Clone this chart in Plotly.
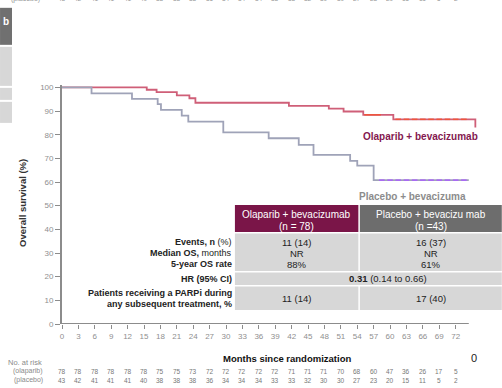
import numpy as np
import plotly.graph_objects as go

# ---- data ----------------------------------------------------------------
risk_months = list(range(0, 73, 3))
risk_olaparib = [78, 78, 78, 78, 78, 78, 75, 75, 73, 72, 72, 72, 72,
                 72, 71, 71, 71, 70, 68, 60, 47, 36, 26, 17, 5]
risk_placebo = [43, 42, 41, 41, 41, 40, 38, 38, 38, 36, 34, 34, 34,
                33, 33, 32, 30, 30, 27, 23, 20, 15, 11, 5, 2]

# Kaplan-Meier step points (months, % surviving)
ola_time = [0, 15.5, 17.3, 21.0, 23.3, 24.4, 41.5, 48.8, 51.5, 55.1, 60.6, 75.6, 75.6]
ola_surv = [100, 99.0, 98.0, 96.6, 95.4, 93.5, 92.2, 91.0, 89.8, 88.4, 86.5, 86.5, 83.0]
pla_time = [0, 5.4, 12.8, 17.5, 18.1, 21.9, 23.1, 29.5, 37.8, 43.3, 46.0, 52.7, 54.0, 57.0, 74.4]
pla_surv = [100, 97.5, 95.1, 92.9, 90.5, 88.1, 85.5, 81.0, 78.5, 75.7, 71.5, 68.9, 66.9, 60.8, 60.8]

# censoring times
ola_censor = [55.8, 56.8, 57.8, 61.5, 63.0, 64.5, 66.0, 67.5, 69.0, 70.5, 72.0, 73.5]
pla_censor = [58.5, 60.0, 61.5, 63.0, 64.5, 66.0, 67.5, 69.0, 70.5, 72.0, 73.5]

table_header = ["Olaparib + bevacizumab", "Placebo + bevacizu mab"]
table_n = ["(n = 78)", "(n =43)"]
events = ["11 (14)", "16 (37)"]
median_os = ["NR", "NR"]
os5 = ["88%", "61%"]
hr_text = "<b>0.31</b> (0.14 to 0.66)"
parpi = ["11 (14)", "17 (40)"]

# ---- geometry ------------------------------------------------------------
FW, FH = 502, 388
L = 62
PX_PER_MONTH = 5.47
X_MAX = 77
R = FW - (L + X_MAX * PX_PER_MONTH)
Y0_PX, Y100_PX = 324.0, 87.5
Y_MAX = 101
PX_PER_PCT = (Y0_PX - Y100_PX) / 100
T = Y0_PX - Y_MAX * PX_PER_PCT
B = FH - Y0_PX
PW = FW - L - R
PH = FH - T - B


def px(x):
    return (x - L) / PW


def py(y):
    return (FH - B - y) / PH


def step_value(times, surv, t):
    i = np.searchsorted(np.array(times), t, side="right") - 1
    return surv[i]


FONT = "Liberation Sans, Arial, sans-serif"
RED = "#cf5f78"
GREY_LINE = "#9fa3b8"
MAROON = "#7a1548"
DARK_GREY = "#6d6d6d"
CELL = "#d7d7d7"

fig = go.Figure()

fig.add_trace(go.Scatter(x=ola_time, y=ola_surv, mode="lines",
                         line=dict(color=RED, width=1.8, shape="hv"),
                         hoverinfo="skip"))
fig.add_trace(go.Scatter(x=ola_censor,
                         y=[step_value(ola_time, ola_surv, t) for t in ola_censor],
                         mode="markers",
                         marker=dict(symbol="line-ew-open", size=4,
                                     line=dict(color="#9a3a57", width=1.5)),
                         hoverinfo="skip"))
fig.add_trace(go.Scatter(x=pla_time, y=pla_surv, mode="lines",
                         line=dict(color=GREY_LINE, width=1.8, shape="hv"),
                         hoverinfo="skip"))
fig.add_trace(go.Scatter(x=pla_censor,
                         y=[step_value(pla_time, pla_surv, t) for t in pla_censor],
                         mode="markers",
                         marker=dict(symbol="line-ew-open", size=4,
                                     line=dict(color="#7d8196", width=1.5)),
                         hoverinfo="skip"))

shapes = []
# x axis line (stops short of the plotting area edge)
shapes.append(dict(type="line", xref="x", yref="y", x0=0, x1=74.4, y0=0, y1=0,
                   line=dict(color="#8c8c8c", width=1.8), layer="above"))


def rect(x0, y0, x1, y1, color):
    shapes.append(dict(type="rect", xref="paper", yref="paper",
                       x0=px(x0), x1=px(x1), y0=py(y1), y1=py(y0),
                       fillcolor=color, line=dict(width=0), layer="above"))


# panel fragments on the left edge
rect(0, 8, 12, 45, "#707070")
rect(0, 47, 12, 86, CELL)
rect(0, 88, 12, 100, CELL)
rect(0, 102, 12, 123, CELL)

# summary table
COLS = [(235, 358.5), (360, 502)]
rect(COLS[0][0], 205, COLS[0][1], 232, MAROON)
rect(COLS[1][0], 205, COLS[1][1], 232, DARK_GREY)
for c in COLS:
    rect(c[0], 233.5, c[1], 271, CELL)
    rect(c[0], 286.5, c[1], 310, CELL)
rect(235, 272.5, 502, 285, CELL)

ann = []


def text(x, y, s, size=9.5, color="#222", xanchor="center", bold=False,
         xref="paper", **kw):
    ann.append(dict(xref=xref, yref="paper", x=px(x) if xref == "paper" else x,
                    y=py(y), text=f"<b>{s}</b>" if bold else s, showarrow=False,
                    xanchor=xanchor, yanchor="middle",
                    font=dict(family=FONT, size=size, color=color), **kw))


text(6, 22, "b", size=10, color="white", bold=True)

# curve labels
text(421, 137, "Olaparib + bevacizumab", size=10, color="#84184f", bold=True)
text(357, 197, "Placebo + bevacizuma", size=10, color="#8c8c8c", bold=True,
     xanchor="left")

# table content
centers = [sum(c) / 2 for c in COLS]
for i, cx in enumerate(centers):
    text(cx, 215, table_header[i], size=10, color="white")
    text(cx, 227, table_n[i], size=10, color="white")
    text(cx, 242.5, events[i])
    text(cx, 253.5, median_os[i])
    text(cx, 265, os5[i])
    text(cx, 298.5, parpi[i])
text(388, 279, hr_text)

for y, s in [(242.5, "<b>Events, n</b> (%)"), (253.5, "<b>Median OS,</b> months"),
             (264.5, "<b>5-year OS rate</b>"), (279, "<b>HR (95% CI)</b>"),
             (293.5, "<b>Patients receiving a PARPi during</b>"),
             (304.5, "<b>any subsequent treatment, %</b>")]:
    text(234, y, s, size=9, xanchor="right")

# axis titles
text(287, 358, "Months since randomization", size=9.5, color="#111", bold=True)
text(23, 203, "<b>Overall survival (%)</b>", size=9.5, color="#333", textangle=-90)
text(474, 358, "0", size=11, color="#222")

# numbers at risk
text(44, 362.5, "No. at risk", size=7.5, color="#8a8a8a", xanchor="right")
text(45, 371, "(olaparib)", size=7, color="#8a8a8a", xanchor="right")
text(45, 380, "(placebo)", size=7, color="#8a8a8a", xanchor="right")
for m, a, b in zip(risk_months, risk_olaparib, risk_placebo):
    text(m, 371, str(a), size=6.5, color="#777", xref="x")
    text(m, 380, str(b), size=6.5, color="#777", xref="x")

# clipped row of numbers along the top edge
text(42, -1, "(placebo)", size=7, color="#999", xanchor="right")
for m, b in zip(risk_months, risk_placebo):
    text(m, -1, str(b), size=6.5, color="#999", xref="x")

fig.update_layout(
    width=FW, height=FH,
    margin=dict(l=L, r=R, t=T, b=B),
    paper_bgcolor="white", plot_bgcolor="white",
    showlegend=False,
    shapes=shapes, annotations=ann,
    xaxis=dict(range=[0, X_MAX], showline=False, showgrid=False, zeroline=False,
               tickvals=risk_months, ticks="outside", ticklen=4, tickwidth=1.2,
               tickcolor="#8c8c8c",
               tickfont=dict(family=FONT, size=8, color="#8f8f8f")),
    yaxis=dict(range=[0, Y_MAX], showline=True, linecolor="#8c8c8c", linewidth=1.8,
               showgrid=False, zeroline=False,
               tickvals=list(range(0, 101, 10)), ticks="outside", ticklen=5,
               tickwidth=1.2, tickcolor="#8c8c8c",
               tickfont=dict(family=FONT, size=8, color="#8f8f8f")),
)

fig.write_html("out.html")
